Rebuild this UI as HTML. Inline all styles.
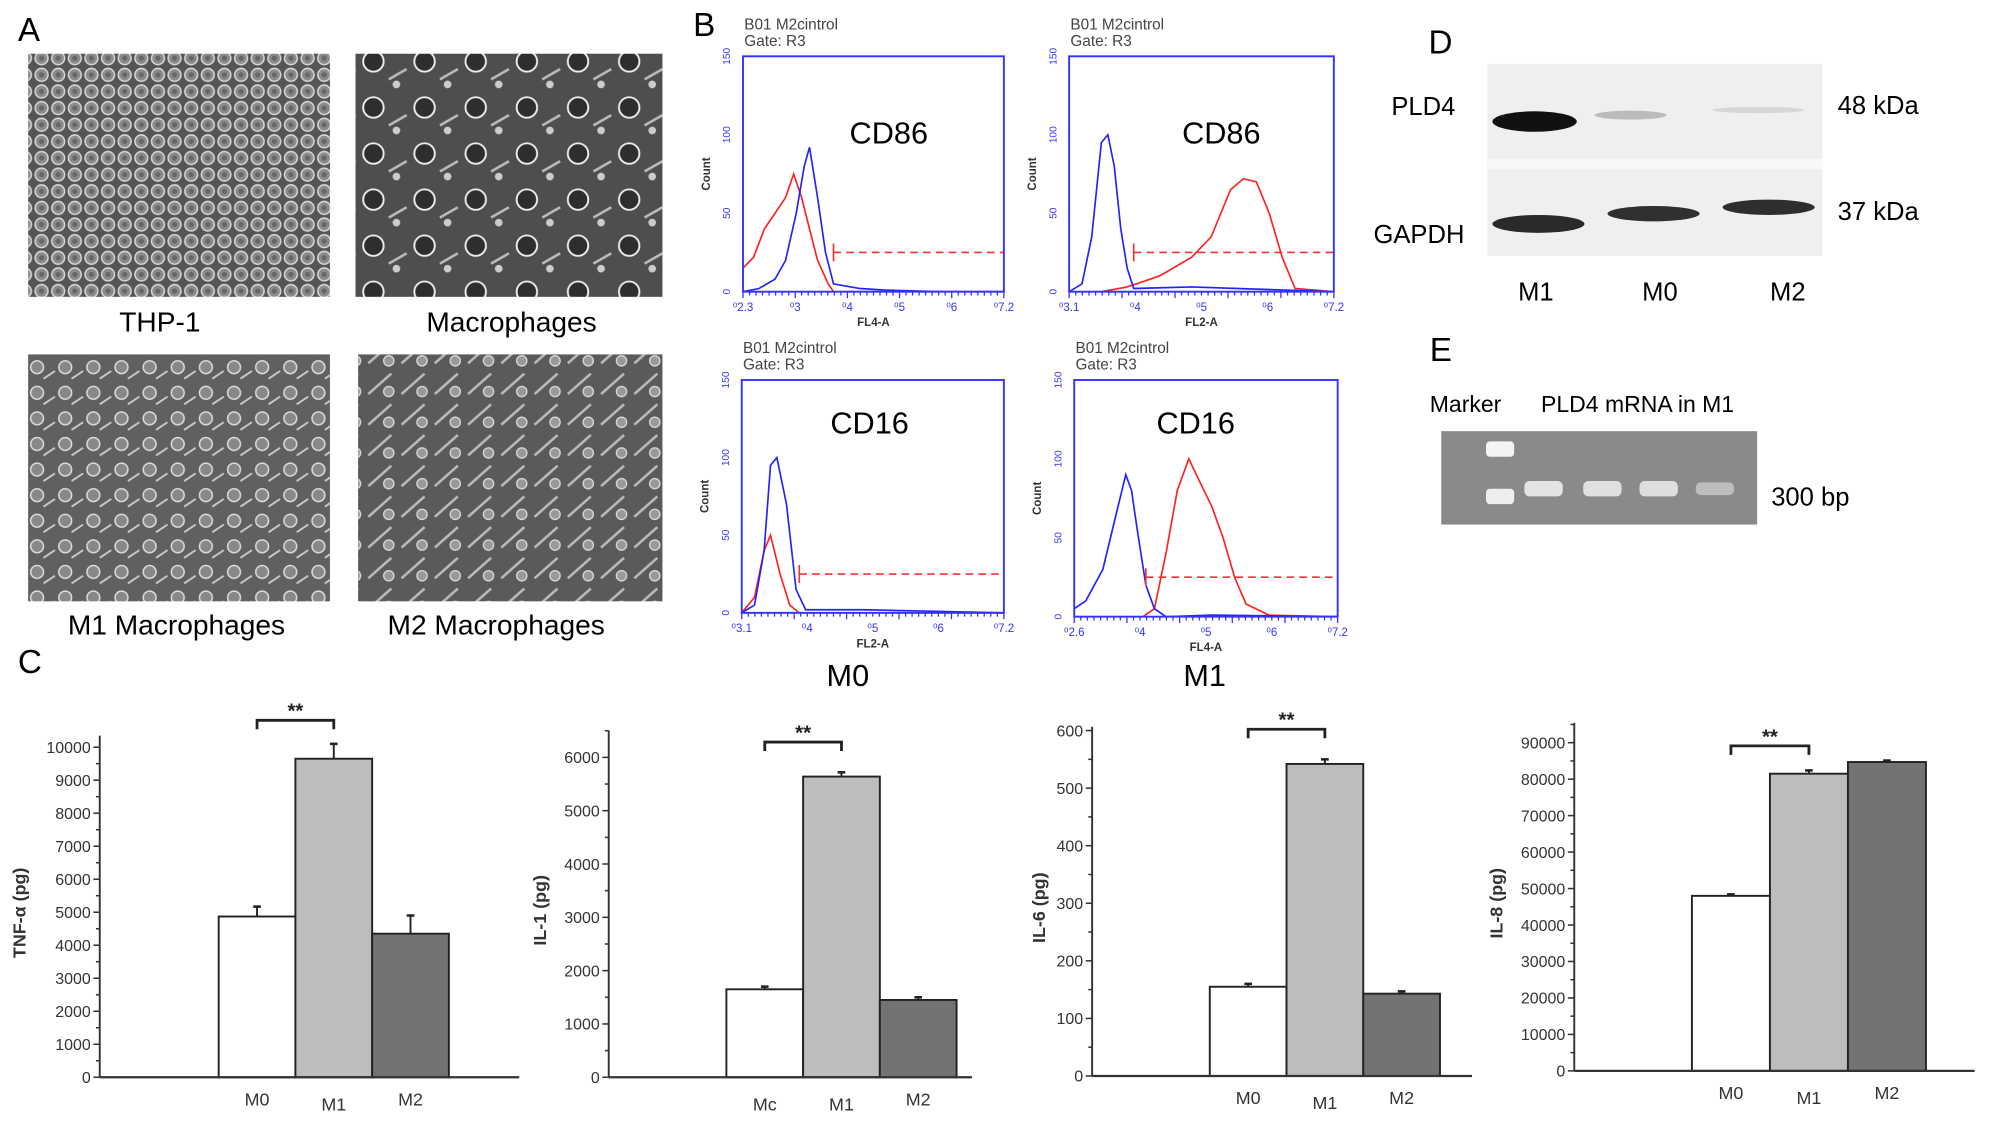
<!DOCTYPE html>
<html><head><meta charset="utf-8">
<style>
html,body{margin:0;padding:0;background:#fff;}
svg{display:block;}
text{font-family:"Liberation Sans",sans-serif;}
</style></head>
<body>
<svg id="fig" width="1995" height="1131" viewBox="0 0 1560 884" preserveAspectRatio="none" xmlns="http://www.w3.org/2000/svg">
<defs>
<pattern id="cells1" width="13" height="13" patternUnits="userSpaceOnUse">
<rect width="13" height="13" fill="#555"/>
<circle cx="6.5" cy="6.5" r="5" fill="#8a8a8a" stroke="#d8d8d8" stroke-width="1.2"/>
<circle cx="6.5" cy="6.5" r="2" fill="#666"/>
</pattern>
<pattern id="cells2" width="40" height="36" patternUnits="userSpaceOnUse">
<rect width="40" height="36" fill="#4e4e4e"/>
<circle cx="12" cy="12" r="8" fill="#2e2e2e" stroke="#eee" stroke-width="1.5"/>
<path d="M24 26 L38 18" stroke="#bbb" stroke-width="2"/>
<circle cx="30" cy="30" r="3" fill="#ccc"/>
</pattern>
<pattern id="cells3" width="22" height="20" patternUnits="userSpaceOnUse">
<rect width="22" height="20" fill="#606060"/>
<circle cx="7" cy="7" r="5" fill="#888" stroke="#ddd" stroke-width="1.2"/>
<path d="M12 16 L21 10" stroke="#ccc" stroke-width="1.5"/>
</pattern>
<pattern id="cells4" width="26" height="24" patternUnits="userSpaceOnUse">
<rect width="26" height="24" fill="#5a5a5a"/>
<path d="M2 20 L20 4" stroke="#bbb" stroke-width="2"/>
<circle cx="18" cy="18" r="4" fill="#999" stroke="#ddd"/>
</pattern>
</defs>

<!-- Panel A -->
<text x="14" y="32" font-size="26">A</text>
<rect x="22" y="42" width="236" height="190" fill="url(#cells1)"/>
<rect x="278" y="42" width="240" height="190" fill="url(#cells2)"/>
<rect x="22" y="277" width="236" height="193" fill="url(#cells3)"/>
<rect x="280" y="277" width="238" height="193" fill="url(#cells4)"/>
<text x="125" y="259" font-size="22" text-anchor="middle">THP-1</text>
<text x="400" y="259" font-size="22" text-anchor="middle">Macrophages</text>
<text x="138" y="496" font-size="22" text-anchor="middle">M1 Macrophages</text>
<text x="388" y="496" font-size="22" text-anchor="middle">M2 Macrophages</text>

<!-- Panel B -->
<text x="542" y="28" font-size="26">B</text>
<g id="flow"></g>
<text x="663" y="536" font-size="24" text-anchor="middle">M0</text>
<text x="942" y="536" font-size="24" text-anchor="middle">M1</text>

<!-- Panel D -->
<text x="1117" y="42" font-size="26">D</text>
<rect x="1163" y="50" width="262" height="150" fill="#efefef"/>
<rect x="1163" y="124" width="262" height="8" fill="#f8f8f8"/>
<ellipse cx="1200" cy="95" rx="33" ry="8" fill="#111"/>
<ellipse cx="1275" cy="90" rx="28" ry="3.5" fill="#bbb"/>
<ellipse cx="1375" cy="86" rx="36" ry="2.5" fill="#d6d6d6"/>
<ellipse cx="1203" cy="175" rx="36" ry="7" fill="#2a2a2a"/>
<ellipse cx="1293" cy="167" rx="36" ry="6" fill="#303030"/>
<ellipse cx="1383" cy="162" rx="36" ry="6" fill="#2e2e2e"/>
<text x="1088" y="90" font-size="20">PLD4</text>
<text x="1074" y="190" font-size="20">GAPDH</text>
<text x="1437" y="89" font-size="20">48 kDa</text>
<text x="1437" y="172" font-size="20">37 kDa</text>
<text x="1201" y="235" font-size="20" text-anchor="middle">M1</text>
<text x="1298" y="235" font-size="20" text-anchor="middle">M0</text>
<text x="1398" y="235" font-size="20" text-anchor="middle">M2</text>

<!-- Panel E -->
<text x="1118" y="282" font-size="26">E</text>
<text x="1118" y="322" font-size="18">Marker</text>
<text x="1205" y="322" font-size="18">PLD4 mRNA in M1</text>
<rect x="1127" y="337" width="247" height="73" fill="#8a8a8a"/>
<rect x="1162" y="345" width="22" height="12" rx="3" fill="#f4f4f4"/>
<rect x="1162" y="382" width="22" height="12" rx="3" fill="#eee"/>
<rect x="1192" y="376" width="30" height="12" rx="4" fill="#e4e4e4"/>
<rect x="1238" y="376" width="30" height="12" rx="4" fill="#e0e0e0"/>
<rect x="1282" y="376" width="30" height="12" rx="4" fill="#dedede"/>
<rect x="1326" y="377" width="30" height="10" rx="4" fill="#bdbdbd"/>
<text x="1385" y="395" font-size="20">300 bp</text>

<!-- Panel C -->
<text x="14" y="526" font-size="26">C</text>
<g id="bars"></g>
</svg>

<script>
// ---------- Bar chart data ----------
const barCategories1 = ["M0","M1","M2"];
const tnfValues = [4870, 9650, 4350];
const tnfErrors = [300, 450, 550];
const tnfTicks = [0,1000,2000,3000,4000,5000,6000,7000,8000,9000,10000];

const barCategories2 = ["Mc","M1","M2"];
const il1Values = [1650, 5640, 1450];
const il1Errors = [50, 80, 50];
const il1Ticks = [0,1000,2000,3000,4000,5000,6000];

const il6Values = [155, 542, 143];
const il6Errors = [5, 8, 4];
const il6Ticks = [0,100,200,300,400,500,600];

const il8Values = [48000, 81500, 84700];
const il8Errors = [400, 900, 400];
const il8Ticks = [0,10000,20000,30000,40000,50000,60000,70000,80000,90000];

// ---------- Flow histogram data (x in log decades, y counts) ----------
const cd86M0BlueX = [2.3,2.6,2.9,3.1,3.3,3.45,3.55,3.7,3.85,4.0,4.5,5,6,7.2];
const cd86M0BlueY = [0,2,8,20,50,80,92,60,25,5,2,1,0,0];
const cd86M0RedX = [2.3,2.5,2.7,2.9,3.1,3.25,3.4,3.55,3.7,3.9,4.0,7.2];
const cd86M0RedY = [15,22,40,50,60,75,60,40,20,5,0,0];
const cd86M1BlueX = [3.1,3.3,3.45,3.6,3.7,3.8,3.9,4.0,4.1,5,7.2];
const cd86M1BlueY = [0,5,35,95,100,80,40,15,2,3,0];
const cd86M1RedX = [3.6,4.0,4.5,5,5.3,5.6,5.8,6,6.2,6.4,6.6,7.2];
const cd86M1RedY = [0,3,10,22,35,65,72,70,50,22,2,0];
const cd16M0BlueX = [3.1,3.3,3.45,3.55,3.65,3.8,3.95,4.1,5,7.2];
const cd16M0BlueY = [0,5,40,95,100,70,15,2,2,0];
const cd16M0RedX = [3.1,3.3,3.45,3.55,3.7,3.85,4.0,7.2];
const cd16M0RedY = [0,10,40,50,25,5,0,0];
const cd16M1BlueX = [2.6,2.8,3.1,3.3,3.5,3.6,3.7,3.85,4.0,4.2,5,7.2];
const cd16M1BlueY = [5,10,30,60,90,80,55,20,5,0,1,0];
const cd16M1RedX = [3.8,4.0,4.2,4.4,4.6,4.8,5.0,5.2,5.4,5.6,6,7.2];
const cd16M1RedY = [0,5,40,80,100,85,70,50,25,8,1,0];

const NS = "http://www.w3.org/2000/svg";
function mk(tag, attrs, parent){
  const e = document.createElementNS(NS, tag);
  for (const k in attrs) e.setAttribute(k, attrs[k]);
  parent.appendChild(e); return e;
}

// ---------- Flow plots ----------
const flow = document.getElementById("flow");
const flowPlots = [
  {x0:581,y0:44,x1:785,y1:228,dom:[2.3,7.2],lab:"CD86",ly:68,xl:"FL4-A",lx:695,gate:4.0,bx:cd86M0BlueX,by:cd86M0BlueY,rx:cd86M0RedX,ry:cd86M0RedY,tk:["2.3","3","4","5","6","7.2"],name:"cd86-m0"},
  {x0:836,y0:44,x1:1043,y1:228,dom:[3.1,7.2],lab:"CD86",ly:68,xl:"FL2-A",lx:955,gate:4.1,bx:cd86M1BlueX,by:cd86M1BlueY,rx:cd86M1RedX,ry:cd86M1RedY,tk:["3.1","4","5","6","7.2"],name:"cd86-m1"},
  {x0:580,y0:297,x1:785,y1:479,dom:[3.1,7.2],lab:"CD16",ly:42,xl:"FL2-A",lx:680,gate:4.0,bx:cd16M0BlueX,by:cd16M0BlueY,rx:cd16M0RedX,ry:cd16M0RedY,tk:["3.1","4","5","6","7.2"],name:"cd16-m0"},
  {x0:840,y0:297,x1:1046,y1:482,dom:[2.6,7.2],lab:"CD16",ly:42,xl:"FL4-A",lx:935,gate:3.85,bx:cd16M1BlueX,by:cd16M1BlueY,rx:cd16M1RedX,ry:cd16M1RedY,tk:["2.6","4","5","6","7.2"],name:"cd16-m1"}
];
flowPlots.forEach(p=>{
  const g = mk("g",{},flow);
  
  
  const sx = v => p.x0 + (v-p.dom[0])/(p.dom[1]-p.dom[0])*(p.x1-p.x0);
  const sy = c => p.y1 - c/150*(p.y1-p.y0);
  const h1 = mk("text",{x:p.x0+1,y:p.y0-21,"font-size":12,fill:"#444"},g); h1.textContent="B01 M2cintrol";
  const h2 = mk("text",{x:p.x0+1,y:p.y0-8,"font-size":12,fill:"#444"},g); h2.textContent="Gate: R3";
  [0,50,100,150].forEach(c=>{
    const t = mk("text",{x:0,y:0,"font-size":8,fill:"#33f","text-anchor":"middle",transform:`translate(${p.x0-10},${sy(c)}) rotate(-90)`},g);
    t.textContent=c;
  });
  const ct = mk("text",{x:0,y:0,"font-size":9,fill:"#333","text-anchor":"middle","font-weight":"bold",transform:`translate(${p.x0-26},${(p.y0+p.y1)/2}) rotate(-90)`},g); ct.textContent="Count";
  const path = (xs,ys,col,nm)=>{
    const pts = xs.map((x,i)=>sx(x).toFixed(1)+","+sy(ys[i]).toFixed(1)).join(" ");
    const l = mk("polyline",{points:pts,fill:"none",stroke:col,"stroke-width":1.3},g);
    
    
  };
  path(p.rx,p.ry,"#f22",p.name+"-red-curve");
  path(p.bx,p.by,"#22f",p.name+"-blue-curve");
  mk("line",{x1:sx(p.gate),y1:sy(25),x2:p.x1,y2:sy(25),stroke:"#e33","stroke-width":1.3,"stroke-dasharray":"6,4"},g);
  mk("line",{x1:sx(p.gate),y1:sy(25)-7,x2:sx(p.gate),y2:sy(25)+7,stroke:"#e33","stroke-width":1.3},g);
  mk("rect",{x:p.x0,y:p.y0,width:p.x1-p.x0,height:p.y1-p.y0,fill:"none",stroke:"#33f","stroke-width":1.5},g);
  for(let i=0;i<=40;i++){ const xx=p.x0+i*(p.x1-p.x0)/40; mk("line",{x1:xx,y1:p.y1,x2:xx,y2:p.y1+(i%8==0?5:3),stroke:"#33f","stroke-width":1},g); }
  p.tk.forEach((t,i)=>{
    const xx = p.x0 + i*(p.x1-p.x0)/(p.tk.length-1);
    const e = mk("text",{x:xx,y:p.y1+15,"font-size":9,fill:"#33f","text-anchor":"middle"},g); e.textContent="\u2070"+t;
  });
  const xl = mk("text",{x:(p.x0+p.x1)/2,y:p.y1+27,"font-size":9,fill:"#333","text-anchor":"middle","font-weight":"bold"},g); xl.textContent=p.xl;
  const lb = mk("text",{x:p.lx,y:p.y0+p.ly,"font-size":24,"text-anchor":"middle"},g); lb.textContent=p.lab;
});

// ---------- Bar charts ----------
const bars = document.getElementById("bars");
const fills = ["#ffffff","#bdbdbd","#737373"];
const charts = [
  {ax:78,x1:406,top:575,zero:842,max:10000,pxPer:0.0258,bx:171,bw:60,cats:barCategories1,vals:tnfValues,errs:tnfErrors,ticks:tnfTicks,minor:500,ylab:"TNF-α (pg)",ylx:20,brY:563,name:"tnf"},
  {ax:476,x1:760,top:571,zero:842,max:6000,pxPer:0.04167,bx:568,bw:60,cats:barCategories2,vals:il1Values,errs:il1Errors,ticks:il1Ticks,minor:500,ylab:"IL-1 (pg)",ylx:427,brY:580,name:"il1"},
  {ax:854,x1:1151,top:568,zero:841,max:600,pxPer:0.45,bx:946,bw:60,cats:barCategories1,vals:il6Values,errs:il6Errors,ticks:il6Ticks,minor:50,ylab:"IL-6 (pg)",ylx:817,brY:570,name:"il6"},
  {ax:1231,x1:1544,top:565,zero:837,max:90000,pxPer:0.00285,bx:1323,bw:61,cats:barCategories1,vals:il8Values,errs:il8Errors,ticks:il8Ticks,minor:5000,ylab:"IL-8 (pg)",ylx:1175,brY:583,name:"il8"}
];
charts.forEach(c=>{
  const g = mk("g",{},bars);
  
  
  const y = v => c.zero - v*c.pxPer;
  for(let v=0; y(v)>=c.top; v+=c.minor){
    const major = c.ticks.includes(v);
    mk("line",{x1:c.ax-(major?5:3),y1:y(v),x2:c.ax,y2:y(v),stroke:"#333","stroke-width":1.2},g);
  }
  c.ticks.forEach(v=>{
    const t = mk("text",{x:c.ax-7,y:y(v)+4.5,"font-size":12.5,fill:"#333","text-anchor":"end"},g);
    
    
    t.textContent=v;
  });
  const yl = mk("text",{x:0,y:0,"font-size":14,"font-weight":"bold",fill:"#333","text-anchor":"middle",transform:`translate(${c.ylx},${(c.top+c.zero)/2+5}) rotate(-90)`},g);
  
  
  yl.textContent=c.ylab;
  c.vals.forEach((v,i)=>{
    const bx = c.bx + i*c.bw;
    const r = mk("rect",{x:bx,y:y(v),width:c.bw,height:c.zero-y(v),fill:fills[i],stroke:"#222","stroke-width":1.5},g);
    
    
    const cx = bx + c.bw/2, ye = y(v + c.errs[i]);
    mk("line",{x1:cx,y1:y(v),x2:cx,y2:ye,stroke:"#222","stroke-width":1.5},g);
    mk("line",{x1:cx-3,y1:ye,x2:cx+3,y2:ye,stroke:"#222","stroke-width":2},g);
    const lt = mk("text",{x:cx,y:c.zero+(i==1?26:22)+(c.cats[i]=="Mc"?4:0),"font-size":14,fill:"#333","text-anchor":"middle"},g);
    
    
    lt.textContent=c.cats[i];
  });
  mk("line",{x1:c.ax,y1:c.top,x2:c.ax,y2:c.zero,stroke:"#333","stroke-width":1.5},g);
  mk("line",{x1:c.ax,y1:c.zero,x2:c.x1,y2:c.zero,stroke:"#333","stroke-width":1.8},g);
  const c0 = c.bx + c.bw/2, c1 = c.bx + c.bw*1.5;
  const br = mk("path",{d:`M${c0} ${c.brY+7} V${c.brY} H${c1} V${c.brY+7}`,fill:"none",stroke:"#222","stroke-width":2.2},g);
  
  
  const st = mk("text",{x:(c0+c1)/2,y:c.brY-2,"font-size":16,"font-weight":"bold","text-anchor":"middle",fill:"#222"},g);
  st.textContent="**";
});
</script>
</body></html>
